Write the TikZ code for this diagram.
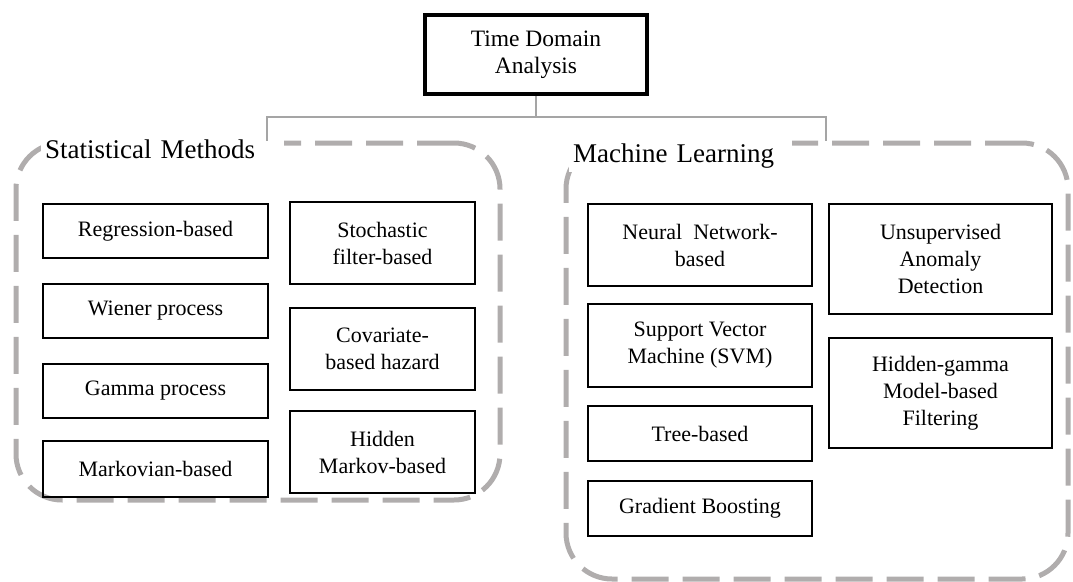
\documentclass[tikz,border=0pt]{standalone}
\usepackage{fontspec}
\setmainfont{Liberation Serif}
\definecolor{dashgray}{RGB}{176,173,173}
\definecolor{linkgray}{RGB}{165,165,165}
\begin{document}
\begin{tikzpicture}[x=1pt,y=-1pt,
  box/.style={draw=black, line width=2.5pt, align=center, inner sep=0pt,
              font=\fontsize{22}{27}\selectfont},
  rootbox/.style={draw=black, line width=4.5pt, align=center, inner sep=0pt,
              font=\fontsize{23.5}{27}\selectfont},
  group/.style={draw=dashgray, line width=5pt, dash pattern=on 37pt off 14pt,
                rounded corners=46pt, inner sep=0pt},
  grouplabel/.style={fill=white, anchor=base west, inner sep=4pt, align=left,
                     font=\fontsize{27}{30}\selectfont},
  link/.style={draw=linkgray, line width=2.5pt}
]
\useasboundingbox (0,0) rectangle (1073,581);

% dashed group frames
\node[group, minimum width=484pt, minimum height=357pt] (stat) at (258,321.5) {};
\node[group, minimum width=502pt, minimum height=436pt] (ml) at (817,361) {};

% group titles (white backing hides the frame behind them)
\node[grouplabel, text width=235pt] (statlbl) at (41,158) {Statistical Methods};
\node[grouplabel, text width=215pt] (mllbl) at (569,162) {Machine Learning};

% root
\node[rootbox, minimum width=222pt, minimum height=79pt] (root) at (536,54.5) {Time Domain\\Analysis};

% statistical methods
\node[box, minimum width=225pt, minimum height=54pt] (reg)  at (155.5,231) {Regression-based};
\node[box, minimum width=225pt, minimum height=54pt] (wien) at (155.5,311) {Wiener process};
\node[box, minimum width=225pt, minimum height=54pt] (gam)  at (155.5,391) {Gamma process};
\node[box, minimum width=225pt, minimum height=56pt] (mark) at (155.5,469) {Markovian-based};
\node[box, minimum width=185pt, minimum height=82pt] (stoch) at (382.5,243) {Stochastic\\filter-based};
\node[box, minimum width=185pt, minimum height=82pt] (cov)   at (382.5,349) {Covariate-\\based hazard};
\node[box, minimum width=185pt, minimum height=82pt] (hmm)   at (382.5,452) {Hidden\\Markov-based};

% machine learning
\node[box, minimum width=224pt, minimum height=82pt] (nn)   at (700,245)   {Neural~ Network-\\based};
\node[box, minimum width=224pt, minimum height=83pt] (svm)  at (700,345.5) {Support Vector\\Machine (SVM)};
\node[box, minimum width=224pt, minimum height=55pt] (tree) at (700,433.5) {Tree-based};
\node[box, minimum width=224pt, minimum height=55pt] (gb)   at (700,508.5) {Gradient Boosting};
\node[box, minimum width=223pt, minimum height=110pt] (ua) at (940.5,259) {Unsupervised\\Anomaly\\Detection};
\node[box, minimum width=223pt, minimum height=110pt] (hg) at (940.5,393) {Hidden-gamma\\Model-based\\Filtering};

% tree connectors
\coordinate (busL) at (267,117);
\coordinate (busR) at (826,117);
\draw[link] (root.south) -- (root.south |- busL);
\draw[link] (stat.north -| busL) |- (busR) -- (ml.north -| busR);
\end{tikzpicture}
\end{document}
